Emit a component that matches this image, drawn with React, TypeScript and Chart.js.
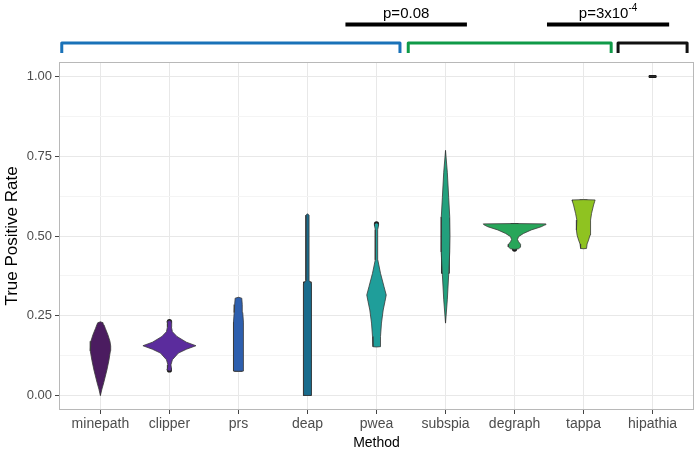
import React, { useEffect, useRef } from 'react';
import { Chart, registerables } from 'chart.js';

Chart.register(...registerables);

// ---------- data ----------
const methods = ['minepath', 'clipper', 'prs', 'deap', 'pwea', 'subspia', 'degraph', 'tappa', 'hipathia'];
const fillColors = ['#4b1c60', '#5b2c9d', '#2e5fae', '#196b8c', '#1f9e9a', '#22a07d', '#28a65a', '#8fc321', '#222222'];

// violin outlines: y levels and half-widths (category units)
const minepathY = [0, 0.02, 0.04, 0.08, 0.11, 0.14, 0.155, 0.17, 0.19, 0.21, 0.222, 0.228, 0.231];
const minepathW = [0, 0.022, 0.048, 0.094, 0.123, 0.145, 0.149, 0.138, 0.109, 0.072, 0.051, 0.039, 0];
const clipperY = [0.077, 0.08, 0.086, 0.096, 0.112, 0.133, 0.145, 0.156, 0.167, 0.185, 0.2, 0.215, 0.226, 0.232, 0.235];
const clipperW = [0, 0.036, 0.029, 0.022, 0.043, 0.13, 0.246, 0.384, 0.246, 0.109, 0.043, 0.029, 0.029, 0.036, 0];
const prsY = [0.076, 0.0765, 0.23, 0.26, 0.285, 0.305, 0.308];
const prsW = [0, 0.072, 0.072, 0.062, 0.055, 0.048, 0];
const deapY = [0, 0.0005, 0.35, 0.36, 0.4, 0.5, 0.565, 0.57];
const deapW = [0, 0.058, 0.058, 0.026, 0.023, 0.023, 0.023, 0];
const pweaY = [0.152, 0.153, 0.185, 0.227, 0.268, 0.295, 0.315, 0.341, 0.383, 0.425, 0.47, 0.52, 0.532, 0.538, 0.541];
const pweaW = [0, 0.051, 0.058, 0.072, 0.097, 0.123, 0.141, 0.109, 0.058, 0.019, 0.017, 0.017, 0.029, 0.029, 0];
const subspiaY = [0.227, 0.3, 0.38, 0.45, 0.5, 0.56, 0.62, 0.7, 0.768];
const subspiaW = [0, 0.026, 0.046, 0.061, 0.065, 0.061, 0.046, 0.026, 0];
const degraphY = [0.458, 0.46, 0.466, 0.474, 0.482, 0.489, 0.498, 0.508, 0.519, 0.529, 0.535, 0.538, 0.539];
const degraphW = [0, 0.058, 0.091, 0.087, 0.058, 0.043, 0.058, 0.13, 0.242, 0.387, 0.442, 0.454, 0];
const tappaY = [0.46, 0.461, 0.475, 0.487, 0.503, 0.519, 0.535, 0.55, 0.571, 0.597, 0.609, 0.613, 0.614];
const tappaW = [0, 0.043, 0.051, 0.072, 0.094, 0.106, 0.101, 0.097, 0.116, 0.145, 0.162, 0.167, 0];
const hipathiaY = [1, 1];
const hipathiaW = [0, 0];

const violinY = [minepathY, clipperY, prsY, deapY, pweaY, subspiaY, degraphY, tappaY, hipathiaY];
const violinW = [minepathW, clipperW, prsW, deapW, pweaW, subspiaW, degraphW, tappaW, hipathiaW];

// box plot statistics
const whiskerLow = [0.0, 0.152, 0.076, 0.0, 0.153, 0.227, 0.537, 0.461, 1.0];
const q1 = [0.078, 0.152, 0.076, 0.0, 0.235, 0.383, 0.537, 0.54, 1.0];
const medians = [0.152, 0.154, 0.153, 0.106, 0.3, 0.498, 0.537, 0.576, 1.0];
const q3 = [0.155, 0.156, 0.23, 0.356, 0.308, 0.556, 0.537, 0.613, 1.0];
const whiskerHigh = [0.23, 0.156, 0.307, 0.569, 0.425, 0.768, 0.537, 0.613, 1.0];

const outlierIndex = [1, 1, 4, 6];
const outlierValue = [0.08, 0.232, 0.538, 0.459];

const yTickValues = [0, 0.125, 0.25, 0.375, 0.5, 0.625, 0.75, 0.875, 1.0];
const yMajor = [0, 0.25, 0.5, 0.75, 1.0];

// group brackets and p-value annotations (x in category units)
const bracketStart = [-0.56, 4.46, 7.5];
const bracketEnd = [4.34, 7.4, 8.5];
const bracketColors = ['#1a72b8', '#0f9a48', '#111111'];
const pBarStart = [3.55, 6.47];
const pBarEnd = [5.31, 8.24];
const pText = ['p=0.08', 'p=3x10'];
const pSup = ['', '-4'];

const FONT = "'Liberation Sans', Arial, Helvetica, sans-serif";

const annotationPlugin = {
  id: 'annotations',
  afterDraw(chart: any) {
    const { ctx, chartArea: a, scales } = chart;
    const x = scales.x;
    ctx.save();
    // panel border
    ctx.strokeStyle = '#b8b8b8';
    ctx.lineWidth = 1;
    ctx.strokeRect(a.left + 0.5, a.top + 0.5, a.right - a.left - 1, a.bottom - a.top - 1);

    // brackets
    const top = a.top - 19;
    const legEnd = a.top - 9;
    ctx.lineWidth = 3;
    ctx.lineJoin = 'round';
    bracketStart.forEach((s, k) => {
      const x0 = x.getPixelForValue(s);
      const x1 = x.getPixelForValue(bracketEnd[k]);
      ctx.strokeStyle = bracketColors[k];
      ctx.beginPath();
      ctx.moveTo(x0, legEnd);
      ctx.lineTo(x0, top);
      ctx.lineTo(x1, top);
      ctx.lineTo(x1, legEnd);
      ctx.stroke();
    });

    // p-value bars
    const barY = a.top - 37.5;
    ctx.strokeStyle = '#000';
    ctx.lineWidth = 4;
    ctx.lineCap = 'butt';
    pBarStart.forEach((s, k) => {
      const x0 = x.getPixelForValue(s);
      const x1 = x.getPixelForValue(pBarEnd[k]);
      ctx.beginPath();
      ctx.moveTo(x0, barY);
      ctx.lineTo(x1, barY);
      ctx.stroke();
      const cx = (x0 + x1) / 2;
      ctx.fillStyle = '#000';
      ctx.textBaseline = 'middle';
      ctx.font = `15px ${FONT}`;
      const mainW = ctx.measureText(pText[k]).width;
      ctx.font = `10px ${FONT}`;
      const supW = pSup[k] ? ctx.measureText(pSup[k]).width : 0;
      const startX = cx - (mainW + supW) / 2;
      ctx.textAlign = 'left';
      ctx.font = `15px ${FONT}`;
      ctx.fillText(pText[k], startX, barY - 11);
      if (pSup[k]) {
        ctx.font = `10px ${FONT}`;
        ctx.fillText(pSup[k], startX + mainW, barY - 16);
      }
    });
    ctx.restore();
  },
};

function buildDatasets() {
  const ds: any[] = [];
  const b = 0.055;
  methods.forEach((m, i) => {
    const ys = violinY[i];
    const ws = violinW[i];
    if (ws.some((w) => w > 0)) {
      const right = ys.map((y, k) => ({ x: i + ws[k], y }));
      const left = ys.map((y, k) => ({ x: i - ws[k], y })).reverse();
      ds.push({
        label: m,
        data: [...right, ...left],
        borderColor: '#3a3a3a',
        borderWidth: 0.8,
        backgroundColor: fillColors[i],
        fill: 'shape',
        pointRadius: 0,
        tension: 0,
      });
    }
    // whiskers
    ds.push({
      label: m + ' whisker',
      data: [
        { x: i, y: whiskerLow[i] },
        { x: i, y: q1[i] },
        { x: i, y: null },
        { x: i, y: q3[i] },
        { x: i, y: whiskerHigh[i] },
      ],
      borderColor: '#2a2a2a',
      borderWidth: 1,
      fill: false,
      pointRadius: 0,
      spanGaps: false,
    });
    // box
    ds.push({
      label: m + ' box',
      data: [
        { x: i - b, y: q1[i] },
        { x: i + b, y: q1[i] },
        { x: i + b, y: q3[i] },
        { x: i - b, y: q3[i] },
        { x: i - b, y: q1[i] },
      ],
      borderColor: '#2a2a2a',
      borderWidth: 1,
      fill: false,
      pointRadius: 0,
    });
    // median
    ds.push({
      label: m + ' median',
      data: [
        { x: i - b, y: medians[i] },
        { x: i + b, y: medians[i] },
      ],
      borderColor: '#1a1a1a',
      borderWidth: i === 8 ? 3 : 2,
      fill: false,
      pointRadius: 0,
    });
  });
  ds.push({
    label: 'outliers',
    data: outlierIndex.map((i, k) => ({ x: i, y: outlierValue[k] })),
    showLine: false,
    pointRadius: 2.6,
    pointBackgroundColor: '#1a1a1a',
    pointBorderColor: '#1a1a1a',
    pointBorderWidth: 0,
  });
  return ds;
}

export default function App() {
  const canvasRef = useRef<HTMLCanvasElement | null>(null);

  useEffect(() => {
    document.body.style.margin = '0';
    const canvas = canvasRef.current;
    if (!canvas) return;
    Chart.defaults.font.family = FONT;
    const chart = new Chart(canvas, {
      type: 'line',
      data: { datasets: buildDatasets() },
      options: {
        responsive: false,
        animation: false,
        devicePixelRatio: 1,
        layout: { padding: { top: 62, right: 6, left: 0, bottom: 0 } },
        plugins: {
          legend: { display: false },
          tooltip: { enabled: false },
        },
        scales: {
          x: {
            type: 'linear',
            min: -0.6,
            max: 8.6,
            afterBuildTicks: (scale: any) => {
              scale.ticks = methods.map((_, i) => ({ value: i }));
            },
            afterFit: (scale: any) => {
              scale.height = 47;
            },
            ticks: {
              callback: (v: any) => methods[Math.round(Number(v))] ?? '',
              color: '#4d4d4d',
              font: { size: 14 },
              padding: 2,
              maxRotation: 0,
              autoSkip: false,
            },
            grid: {
              color: '#e8e8e8',
              lineWidth: 1,
              drawTicks: true,
              tickLength: 4,
              tickColor: '#444',
            },
            border: { display: false },
            title: {
              display: true,
              text: 'Method',
              color: '#000',
              font: { size: 14 },
              padding: { top: 0, bottom: 5 },
            },
          },
          y: {
            type: 'linear',
            min: -0.0455,
            max: 1.0455,
            afterBuildTicks: (scale: any) => {
              scale.ticks = yTickValues.map((v) => ({ value: v }));
            },
            afterFit: (scale: any) => {
              scale.width = 59;
            },
            ticks: {
              callback: (v: any) => {
                const n = Number(v);
                return yMajor.some((m) => Math.abs(m - n) < 1e-6) ? n.toFixed(2) : '';
              },
              color: '#4d4d4d',
              font: { size: 13 },
              padding: 3,
              autoSkip: false,
            },
            grid: {
              color: (c: any) => {
                const n = c.tick ? c.tick.value : 0;
                return yMajor.some((m) => Math.abs(m - n) < 1e-6) ? '#e8e8e8' : '#f4f4f4';
              },
              lineWidth: 1,
              drawTicks: true,
              tickLength: 4,
              tickColor: (c: any) => {
                const n = c.tick ? c.tick.value : 0;
                return yMajor.some((m) => Math.abs(m - n) < 1e-6) ? '#444' : 'rgba(0,0,0,0)';
              },
            },
            border: { display: false },
            title: {
              display: true,
              text: 'True Positive Rate',
              color: '#000',
              font: { size: 17 },
              padding: { top: 2, bottom: 0 },
            },
          },
        },
      },
      plugins: [annotationPlugin],
    } as any);
    return () => chart.destroy();
  }, []);

  return (
    <div style={{ width: 700, height: 457 }}>
      <canvas ref={canvasRef} width={700} height={457} style={{ display: 'block' }} />
    </div>
  );
}
